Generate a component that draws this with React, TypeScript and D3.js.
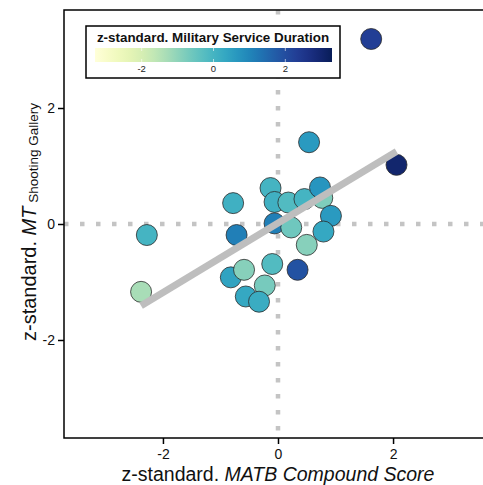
import React, { useEffect, useRef } from "react";
import * as d3 from "d3";

// z-standardised values
const matbScore = [0.54, -0.13, 0.73, -0.78, -0.06, 0.18, 0.46, 0.77, 0.92, -2.28, -0.72, -0.06, 0.23, 0.79, 0.5, -0.1, 0.34, -0.82, -0.59, -0.23, -2.38, -0.56, -0.33, 1.62, 2.06];
const shootingMT = [1.41, 0.62, 0.63, 0.36, 0.38, 0.37, 0.43, 0.45, 0.14, -0.19, -0.19, 0.01, -0.06, -0.13, -0.36, -0.69, -0.79, -0.92, -0.79, -1.06, -1.17, -1.25, -1.34, 3.19, 1.02];
const serviceDuration = [0.6, 0.0, 0.7, 0.1, 0.1, -0.2, 0.0, -0.8, 0.6, 0.0, 1.1, 1.1, -0.6, 0.3, -0.9, -0.2, 1.9, 0.4, -0.9, -0.7, -1.3, 0.3, 0.2, 2.3, 3.0];

// draw order: put the hidden light one first so others overlap it
const drawOrder = [7, 0, 1, 3, 4, 5, 6, 2, 8, 9, 10, 11, 12, 13, 14, 15, 16, 17, 18, 19, 20, 21, 22, 23, 24];

// fitted regression line ends
const fitX = [-2.38, 2.06];
const fitY = [-1.41, 1.25];

const axisTicks = [-2, 0, 2];
const legendTicks = [-2, 0, 2];

const width = 483;
const height = 485;

const App: React.FC = () => {
  const svgRef = useRef<SVGSVGElement | null>(null);

  useEffect(() => {
    const svg = d3.select(svgRef.current);
    svg.selectAll("*").remove();

    const left = 64;
    const right = 492;
    const top = 10;
    const bottom = 438;

    const x = d3.scaleLinear().domain([-3.72, 3.72]).range([left, right]);
    const y = d3.scaleLinear().domain([-3.69, 3.69]).range([bottom, top]);
    const color = d3.scaleSequential(d3.interpolateYlGnBu).domain([-3.3, 3.3]);

    const font = "'Liberation Sans', Arial, sans-serif";

    // dotted zero lines
    svg
      .append("line")
      .attr("x1", x(0))
      .attr("x2", x(0))
      .attr("y1", top)
      .attr("y2", bottom)
      .attr("stroke", "#c4c4c4")
      .attr("stroke-width", 4.5)
      .attr("stroke-dasharray", "4.5 11.5");
    svg
      .append("line")
      .attr("x1", left)
      .attr("x2", right)
      .attr("y1", y(0))
      .attr("y2", y(0))
      .attr("stroke", "#c4c4c4")
      .attr("stroke-width", 4.5)
      .attr("stroke-dasharray", "4.5 11.5");

    // points
    svg
      .append("g")
      .selectAll("circle")
      .data(drawOrder)
      .enter()
      .append("circle")
      .attr("cx", (i) => x(matbScore[i]))
      .attr("cy", (i) => y(shootingMT[i]))
      .attr("r", 10.5)
      .attr("fill", (i) => color(serviceDuration[i]))
      .attr("stroke", "#2b2b2b")
      .attr("stroke-width", 0.8);

    // regression line
    svg
      .append("line")
      .attr("x1", x(fitX[0]))
      .attr("y1", y(fitY[0]))
      .attr("x2", x(fitX[1]))
      .attr("y2", y(fitY[1]))
      .attr("stroke", "#bebebe")
      .attr("stroke-width", 7);

    // panel border
    svg
      .append("rect")
      .attr("x", left)
      .attr("y", top)
      .attr("width", right - left)
      .attr("height", bottom - top)
      .attr("fill", "none")
      .attr("stroke", "#000")
      .attr("stroke-width", 1.5);

    // axes
    const xAxis = svg
      .append("g")
      .attr("transform", `translate(0,${bottom})`)
      .call(d3.axisBottom(x).tickValues(axisTicks).tickSize(6).tickPadding(5).tickFormat((d) => String(d)));
    xAxis.select(".domain").remove();
    xAxis.selectAll(".tick line").attr("stroke", "#000").attr("stroke-width", 1.5);
    xAxis.selectAll(".tick text").attr("font-size", 14).attr("font-family", font).attr("fill", "#111");

    const yAxis = svg
      .append("g")
      .attr("transform", `translate(${left},0)`)
      .call(d3.axisLeft(y).tickValues(axisTicks).tickSize(6).tickPadding(3).tickFormat((d) => String(d)));
    yAxis.select(".domain").remove();
    yAxis.selectAll(".tick line").attr("stroke", "#000").attr("stroke-width", 1.5);
    yAxis.selectAll(".tick text").attr("font-size", 14).attr("font-family", font).attr("fill", "#111");

    // axis titles
    const xt = svg
      .append("text")
      .attr("x", x(0))
      .attr("y", 481)
      .attr("text-anchor", "middle")
      .attr("font-family", font)
      .attr("font-size", 19.5)
      .attr("fill", "#111");
    xt.append("tspan").text("z-standard. ");
    xt.append("tspan").attr("font-style", "italic").text("MATB Compound Score");

    const yt = svg
      .append("text")
      .attr("transform", `translate(36,${y(0) - 2}) rotate(-90)`)
      .attr("text-anchor", "middle")
      .attr("font-family", font)
      .attr("font-size", 20)
      .attr("fill", "#111");
    yt.append("tspan").text("z-standard. ");
    yt.append("tspan").attr("font-style", "italic").text("MT");
    yt.append("tspan").attr("font-size", 13.5).attr("dy", 2).text(" Shooting Gallery");

    // legend
    const lg = svg.append("g");
    lg.append("rect")
      .attr("x", 86)
      .attr("y", 26)
      .attr("width", 254)
      .attr("height", 52)
      .attr("fill", "#fff")
      .attr("stroke", "#000")
      .attr("stroke-width", 1.5);

    lg.append("text")
      .attr("x", 213)
      .attr("y", 42)
      .attr("text-anchor", "middle")
      .attr("font-family", font)
      .attr("font-weight", "bold")
      .attr("font-size", 13.4)
      .attr("fill", "#111")
      .text("z-standard. Military Service Duration");

    const lx = d3.scaleLinear().domain([-3.3, 3.3]).range([95, 332]);
    const grad = svg
      .append("defs")
      .append("linearGradient")
      .attr("id", "durGrad")
      .attr("x1", "0%")
      .attr("x2", "100%");
    d3.range(0, 1.0001, 0.05).forEach((t) => {
      grad
        .append("stop")
        .attr("offset", `${t * 100}%`)
        .attr("stop-color", d3.interpolateYlGnBu(t));
    });
    lg.append("rect")
      .attr("x", lx(-3.3))
      .attr("y", 48)
      .attr("width", lx(3.3) - lx(-3.3))
      .attr("height", 14)
      .attr("fill", "url(#durGrad)");

    lg.selectAll(".lt")
      .data(legendTicks)
      .enter()
      .append("line")
      .attr("x1", (d) => lx(d))
      .attr("x2", (d) => lx(d))
      .attr("y1", 48)
      .attr("y2", 62)
      .attr("stroke", "#fff")
      .attr("stroke-width", 0.6)
      .attr("stroke-dasharray", "3 8 3");

    lg.selectAll(".ll")
      .data(legendTicks)
      .enter()
      .append("text")
      .attr("x", (d) => lx(d))
      .attr("y", 71.5)
      .attr("text-anchor", "middle")
      .attr("font-family", font)
      .attr("font-size", 9.5)
      .attr("fill", "#222")
      .text((d) => String(d));
  }, []);

  return (
    <svg
      ref={svgRef}
      width={width}
      height={height}
      style={{ position: "absolute", left: 0, top: 0, background: "#fff" }}
    />
  );
};

export default App;
